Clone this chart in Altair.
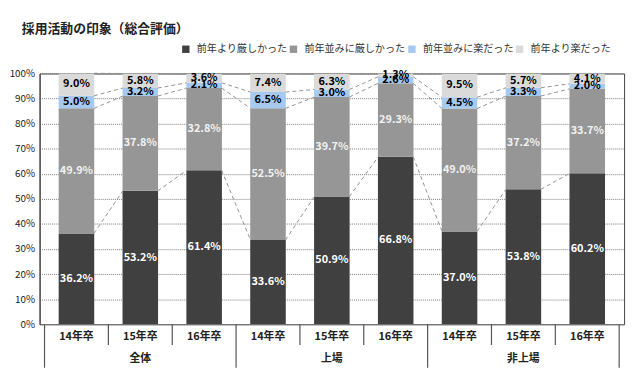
import altair as alt
import pandas as pd

# ---- data ----
groups = ["全体", "上場", "非上場"]
years = ["14年卒", "15年卒", "16年卒"]
series = ["前年より厳しかった", "前年並みに厳しかった", "前年並みに楽だった", "前年より楽だった"]
s1 = [36.2, 53.2, 61.4, 33.6, 50.9, 66.8, 37.0, 53.8, 60.2]
s2 = [49.9, 37.8, 32.8, 52.5, 39.7, 29.3, 49.0, 37.2, 33.7]
s3 = [5.0, 3.2, 2.1, 6.5, 3.0, 2.6, 4.5, 3.3, 2.0]
s4 = [9.0, 5.8, 3.6, 7.4, 6.3, 1.3, 9.5, 5.7, 4.1]
y_ticks = [0, 10, 20, 30, 40, 50, 60, 70, 80, 90, 100]

# ---- styling ----
colors = ["#404040", "#969696", "#a6c9f0", "#dadada"]
label_colors = ["#ffffff", "#f2f2f2", "#000000", "#000000"]
FONT = "Noto Sans CJK JP"
W, H = 592, 254
N = len(s1)
STEP = W / N
BAR_W = 36
HALF = BAR_W / 2 / STEP

all_series = [s1, s2, s3, s4]
rows = []
tops = []
for i in range(N):
    cum = 0.0
    t = []
    for k, vals in enumerate(all_series):
        v = vals[i]
        rows.append(dict(idx=i, series=series[k], k=k, lo=cum, hi=cum + v,
                         mid=cum + v / 2, label=f"{v:.1f}%", lc=label_colors[k]))
        cum += v
        t.append(cum)
    tops.append(t)
df = pd.DataFrame(rows)

line_rows = []
for i in range(N - 1):
    for k in range(4):
        line_rows.append(dict(x=i + HALF, x2=i + 1 - HALF, y=tops[i][k], y2=tops[i + 1][k]))
lines_df = pd.DataFrame(line_rows)

cat_df = pd.DataFrame([dict(idx=g * 3 + j, year=years[j]) for g in range(3) for j in range(3)])
grp_df = pd.DataFrame([dict(idx=g * 3 + 1, group=groups[g]) for g in range(3)])
minor_df = pd.DataFrame([dict(x=g * 3 + j + 0.5) for g in range(3) for j in range(2)])
major_df = pd.DataFrame([dict(x=g * 3 - 0.5) for g in range(4)])

xscale = alt.Scale(domain=[-0.5, N - 0.5], nice=False, zero=False)
yscale = alt.Scale(domain=[0, 100], nice=False)


def yaxis():
    return alt.Axis(values=y_ticks, labelExpr="datum.value + '%'", ticks=False, title=None,
                    labelOverlap=False, labelPadding=5, grid=True, gridDash=[1, 1],
                    gridColor="#7a7a7a", domainColor="#404040", labelFont=FONT,
                    labelFontSize=10, labelColor="#222222")


bars = alt.Chart(df).mark_bar(width=BAR_W, clip=True).encode(
    x=alt.X("idx:Q", scale=xscale, axis=None),
    y=alt.Y("lo:Q", scale=yscale, title=None, axis=yaxis()),
    y2="hi:Q",
    color=alt.Color("series:N", scale=alt.Scale(domain=series, range=colors),
                    legend=alt.Legend(title=None, orient="none", direction="horizontal",
                                      legendX=143, legendY=-30, symbolType="square",
                                      symbolSize=56, symbolStrokeWidth=0,
                                      labelFont=FONT, labelFontSize=10.2, labelColor="#333333",
                                      labelOffset=6, columnPadding=1, columns=4)),
)

series_lines = alt.Chart(lines_df).mark_rule(color="#929292", strokeDash=[4, 3], strokeWidth=1).encode(
    x=alt.X("x:Q", scale=xscale, axis=None), x2="x2:Q",
    y=alt.Y("y:Q", scale=yscale, title=None, axis=yaxis()), y2="y2:Q",
)

labels = alt.Chart(df).mark_text(font=FONT, fontSize=11, fontWeight="bold", baseline="middle").encode(
    x=alt.X("idx:Q", scale=xscale, axis=None),
    y=alt.Y("mid:Q", scale=yscale, title=None, axis=yaxis()),
    text="label:N",
    color=alt.Color("lc:N", scale=None),
)

minor = alt.Chart(minor_df).mark_rule(color="#555555", strokeWidth=1.2).encode(
    x=alt.X("x:Q", scale=xscale, axis=None), y=alt.value(H), y2=alt.value(H + 21))
major = alt.Chart(major_df).mark_rule(color="#555555", strokeWidth=1.2).encode(
    x=alt.X("x:Q", scale=xscale, axis=None), y=alt.value(H), y2=alt.value(H + 44))

cats = alt.Chart(cat_df).mark_text(font=FONT, fontSize=11, fontWeight="bold", baseline="middle",
                                   color="#222222").encode(
    x=alt.X("idx:Q", scale=xscale, axis=None), y=alt.value(H + 13), text="year:N")
grps = alt.Chart(grp_df).mark_text(font=FONT, fontSize=11, fontWeight="bold", baseline="middle",
                                   color="#222222").encode(
    x=alt.X("idx:Q", scale=xscale, axis=None), y=alt.value(H + 35), text="group:N")

chart = alt.layer(bars, series_lines, labels, minor, major, cats, grps).properties(
    width=W, height=H,
    autosize=alt.AutoSizeParams(type="none"),
    padding={"left": 32, "top": 64, "right": 8, "bottom": 45},
    title=alt.Title("採用活動の印象（総合評価）", anchor="start", frame="group", dx=-18,
                    fontSize=13, fontWeight="bold", font=FONT, color="#222222", offset=8),
).configure_view(stroke="#404040", strokeWidth=1)

chart.save("out.html", embed_options={"renderer": "svg", "actions": False})
